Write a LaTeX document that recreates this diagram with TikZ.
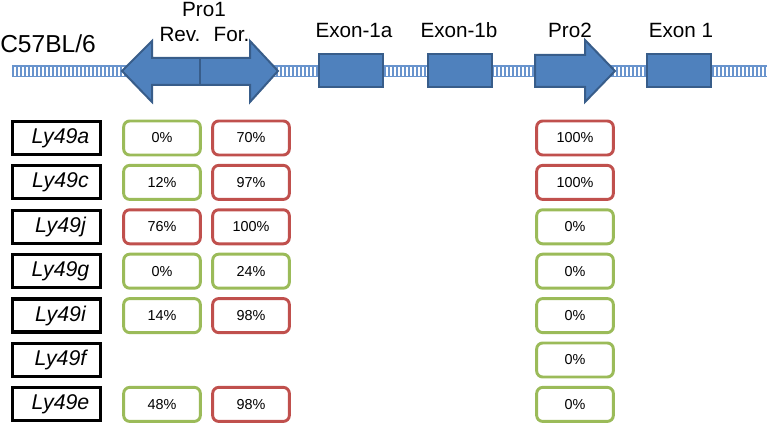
\documentclass[tikz,border=0pt]{standalone}
\usepackage{fontspec}
\setmainfont{Liberation Sans}
\definecolor{boxblue}{RGB}{79,129,189}
\definecolor{boxedge}{RGB}{56,93,138}
\definecolor{ladderblue}{RGB}{105,148,205}
\definecolor{okgreen}{RGB}{155,187,89}
\definecolor{hired}{RGB}{192,80,77}
\tikzset{
  ladderline/.style={draw=ladderblue, line width=1.3pt},
  rungline/.style={draw=ladderblue, line width=0.8pt},
  feature/.style={fill=boxblue, draw=boxedge, line width=1.5pt, line join=miter},
  exonbox/.style={feature, rectangle, minimum width=48pt, minimum height=24.75pt, inner sep=0pt},
  toplabel/.style={font=\fontsize{15.5}{18}\selectfont, inner sep=0pt, anchor=base},
  genebox/.style={draw=black, line width=2.4pt, rectangle, minimum width=66pt, minimum height=24.75pt, inner sep=0pt, font=\fontsize{16}{19}\selectfont\itshape},
  pct/.style={rectangle, rounded corners=4.5pt, line width=2.2pt, minimum width=57.5pt, minimum height=25.5pt, inner sep=0pt, font=\fontsize{10.8}{13}\selectfont},
  pgreen/.style={pct, draw=okgreen},
  pred/.style={pct, draw=hired}
}
\begin{document}
\begin{tikzpicture}[x=0.75pt,y=-0.75pt]
\useasboundingbox (0,0) rectangle (767,423);
% DNA ladder
\draw[ladderline] (12,66) -- (767,66);
\draw[ladderline] (12,76.5) -- (767,76.5);
\foreach \xx in {13,17,...,766} {\draw[rungline] (\xx,66) -- (\xx,76.5);}
% Pro1 double arrow
\draw[feature] (122,71) -- (152,41) -- (152,58) -- (250,58) -- (250,41) -- (278,71)
  -- (250,102) -- (250,85) -- (152,85) -- (152,102) -- cycle;
\draw[draw=boxedge, line width=1.5pt] (200,58) -- (200,85);
% Pro2 arrow
\draw[feature] (535,55) -- (585,55) -- (585,40) -- (615,71) -- (585,102) -- (585,87) -- (535,87) -- cycle;
% exons
\node[exonbox] (e1a) at (350.5,71) {};
\node[exonbox] (e1b) at (459.5,71) {};
\node[exonbox] (e1) at (679,71) {};
% labels
\node[font=\fontsize{18.4}{22}\selectfont, inner sep=0pt, anchor=base west] (strain) at (0,53) {C57BL/6};
\node[toplabel] (lpro1) at (204,17) {Pro1};
\node[toplabel] (lrev) at (180,41.5) {Rev.};
\node[toplabel] (lfor) at (231.5,41.5) {For.};
\node[toplabel] (le1a) at (354,37.3) {Exon-1a};
\node[toplabel] (le1b) at (459,37.3) {Exon-1b};
\node[toplabel] (lpro2) at (570,37.3) {Pro2};
\node[toplabel] (le1) at (681,37.3) {Exon 1};
% gene rows
\foreach \nm/\i in {a/0,c/1,j/2,g/3,i/4,f/5,e/6} {
  \node[genebox] (g\nm) at (56.5,{138+44.4*\i}) {\hspace*{6pt}Ly49\nm};
}
% percentages: column 1 (Rev.), column 2 (For.), column 3 (Pro2)
\node[pgreen] (a1) at (162,138) {0\%};
\node[pred]   (a2) at (251,138) {70\%};
\node[pred]   (a3) at (575,138) {100\%};
\node[pgreen] (c1) at (162,182.4) {12\%};
\node[pred]   (c2) at (251,182.4) {97\%};
\node[pred]   (c3) at (575,182.4) {100\%};
\node[pred]   (j1) at (162,226.8) {76\%};
\node[pred]   (j2) at (251,226.8) {100\%};
\node[pgreen] (j3) at (575,226.8) {0\%};
\node[pgreen] (gg1) at (162,271.2) {0\%};
\node[pgreen] (gg2) at (251,271.2) {24\%};
\node[pgreen] (gg3) at (575,271.2) {0\%};
\node[pgreen] (i1) at (162,315.6) {14\%};
\node[pred]   (i2) at (251,315.6) {98\%};
\node[pgreen] (i3) at (575,315.6) {0\%};
\node[pgreen] (f3) at (575,360) {0\%};
\node[pgreen] (e1p) at (162,404.4) {48\%};
\node[pred]   (e2p) at (251,404.4) {98\%};
\node[pgreen] (e3p) at (575,404.4) {0\%};
\end{tikzpicture}
\end{document}
